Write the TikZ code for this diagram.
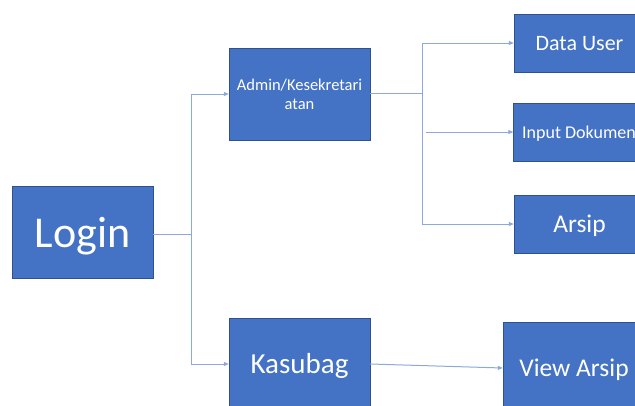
\documentclass[tikz,border=0pt]{standalone}
\usepackage{fontspec}
\setmainfont{Carlito}
\definecolor{boxfill}{RGB}{68,114,196}
\definecolor{boxline}{RGB}{47,82,143}
\definecolor{linkline}{RGB}{140,168,220}
\usetikzlibrary{arrows.meta,positioning}

\begin{document}
\begin{tikzpicture}[x=1pt, y=-1pt,
    blok/.style={draw=boxline, fill=boxfill, text=white, inner sep=0pt,
                 minimum width=141pt, minimum height=92pt, align=center},
    kanan/.style={blok, minimum width=131pt, minimum height=58pt},
    ukuran/.style={font=\fontsize{#1}{#1}\selectfont,
                   text height={0.95*#1pt}, text depth={0.27*#1pt}},
    link/.style={draw=linkline, line width=1pt},
    panah/.style={link, -{Triangle[length=5pt, width=4pt]}}]
  \useasboundingbox (0,0) rectangle (635,405);
  \clip (0,0) rectangle (635,405);
  % kotak
  \node[blok, ukuran=44] (login) at (82.5,232.5) {Login};
  \node[blok, font=\fontsize{16.5}{19}\selectfont] (admin) at (299.5,94) {Admin/Kesekretari\\atan};
  \node[blok, ukuran=29] (kasubag) at (299.5,364) {Kasubag};
  \node[kanan, ukuran=22] (datauser) at (579.5,43) {Data User};
  \node[kanan, ukuran=18] (input) at (579,132) {Input Dokumen};
  \node[kanan, ukuran=25.5] (arsip) at (579.5,224) {Arsip};
  \node[blok, minimum width=142pt, ukuran=25.5] (viewarsip) at (574,368) {View Arsip};
  % garis
  \coordinate (j1) at (191,234);
  \coordinate (j2) at (422,93);
  \draw[link] (login.east |- j1) -- (j1);
  \draw[panah] (j1) |- (admin.west);
  \draw[panah] (j1) |- (kasubag.west);
  \draw[link] (admin.east |- j2) -- (j2);
  \draw[panah] (j2) |- (datauser.west);
  \draw[panah] (j2) |- (arsip.west);
  \draw[panah] ([xshift=4pt]j2 |- input.west) -- (input.west);
  \draw[panah] (kasubag.east) -- (viewarsip.west);
\end{tikzpicture}
\end{document}
